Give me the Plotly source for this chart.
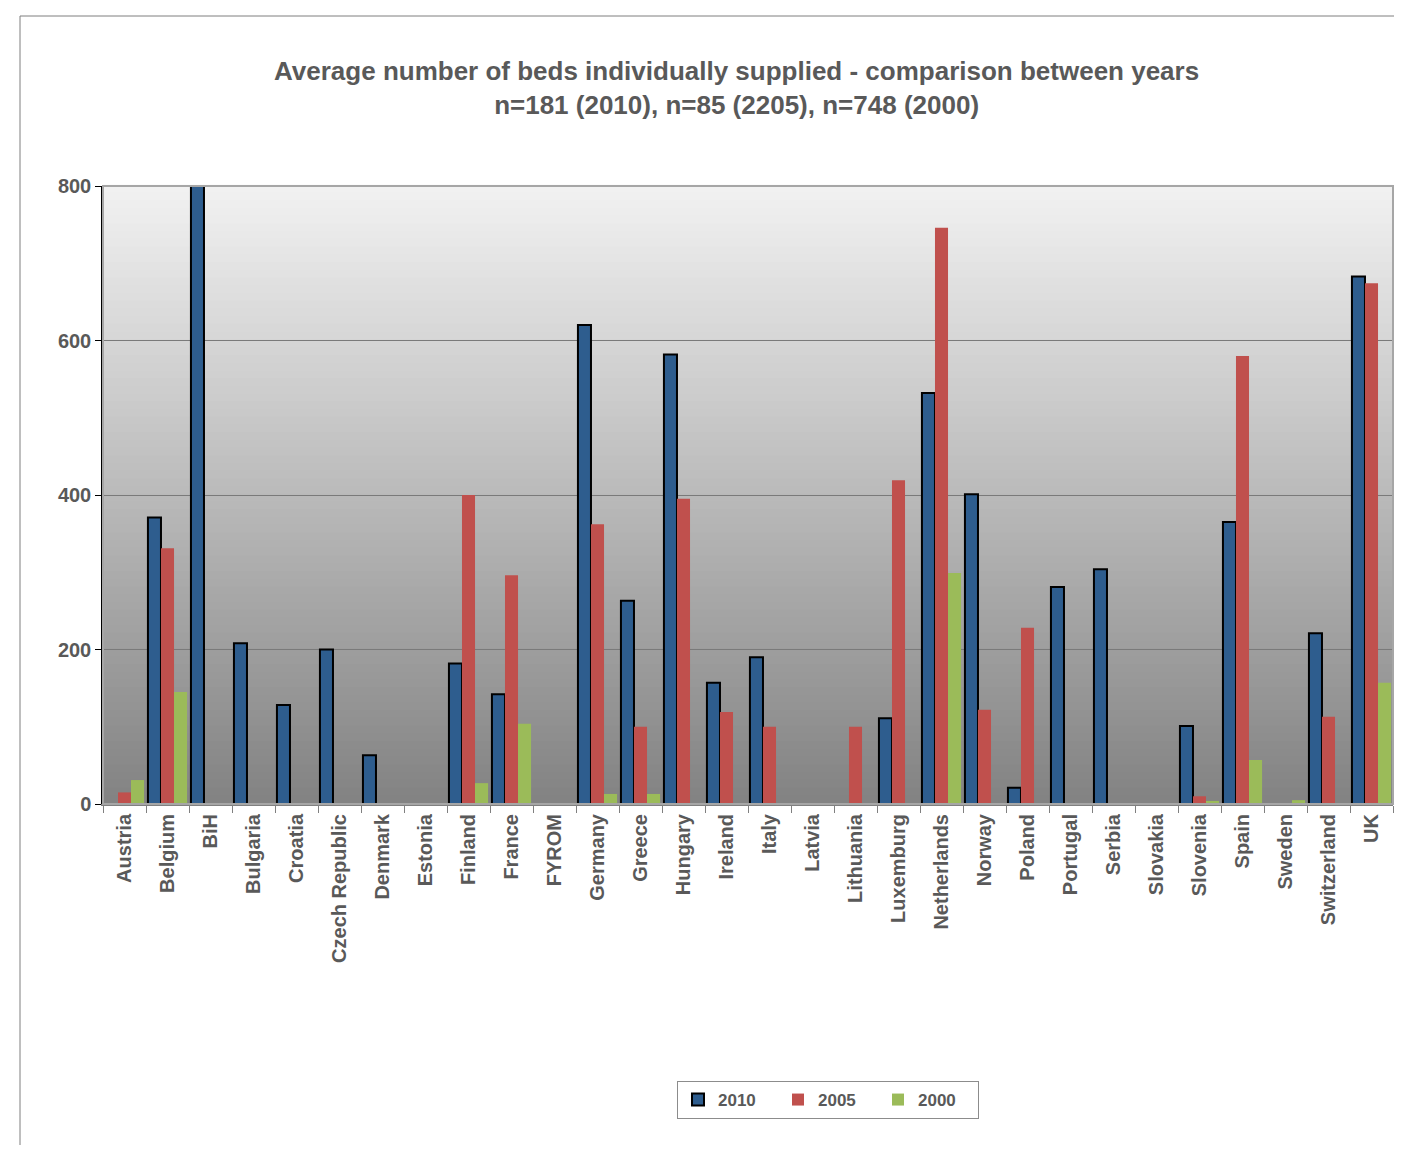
import plotly.graph_objects as go

countries = ["Austria", "Belgium", "BiH", "Bulgaria", "Croatia", "Czech Republic", "Denmark",
             "Estonia", "Finland", "France", "FYROM", "Germany", "Greece", "Hungary", "Ireland",
             "Italy", "Latvia", "Lithuania", "Luxemburg", "Netherlands", "Norway", "Poland",
             "Portugal", "Serbia", "Slovakia", "Slovenia", "Spain", "Sweden", "Switzerland", "UK"]

v2010 = [None, 371, 850, 208, 128, 200, 63, None, 182, 142, None, 620, 263, 582, 157, 190,
         None, None, 111, 532, 401, 21, 281, 304, None, 101, 365, None, 221, 683]
v2005 = [15, 331, None, None, None, None, None, None, 400, 296, None, 362, 100, 395, 119, 100,
         None, 100, 419, 746, 122, 228, None, None, None, 10, 580, None, 113, 674]
v2000 = [31, 145, None, None, None, None, None, None, 27, 104, None, 13, 13, None, None, None,
         None, None, None, 299, None, None, None, None, None, 4, 57, 5, None, 157]

y_ticks = [0, 200, 400, 600, 800]

OFF = 8  # page body margin
W, H = 1402 - 2 * OFF, 1153 - 2 * OFF
L, R, T, B = 103 - OFF, W - 1, 186 - OFF, 804 - OFF
pw, ph = R - L, B - T

def px(x):
    return (x - OFF - L) / pw

def py(y):
    return (B - (y - OFF)) / ph

FONT = "Liberation Sans, Arial"
GREY = "#595959"

fig = go.Figure()
fig.add_trace(go.Bar(name="<b>2010</b>", x=countries, y=v2010,
                     marker=dict(color="#2e5d8e", line=dict(color="#000000", width=2))))
fig.add_trace(go.Bar(name="<b>2005</b>", x=countries, y=v2005,
                     marker=dict(color="#c0504d", line=dict(width=0))))
fig.add_trace(go.Bar(name="<b>2000</b>", x=countries, y=v2000,
                     marker=dict(color="#9bbb59", line=dict(width=0))))

# gradient background of plot area
shapes = []
N = 80
c0, c1 = 0xf2, 0x82
for i in range(N):
    f0, f1 = i / N, (i + 1) / N
    t = (i + 0.5) / N
    c = round(c0 + (c1 - c0) * t)
    col = f"rgb({c},{c},{c})"
    shapes.append(dict(type="rect", xref="paper", yref="paper", x0=0, x1=1,
                       y0=1 - f1, y1=1 - f0 + 0.002, fillcolor=col, line=dict(width=0),
                       layer="below"))
# plot area border
shapes.append(dict(type="rect", xref="paper", yref="paper", x0=0, x1=1, y0=0, y1=1,
                   line=dict(color="#a6a6a6", width=2), fillcolor="rgba(0,0,0,0)", layer="above"))
# outer chart frame
shapes.append(dict(type="rect", xref="paper", yref="paper", x0=px(20), x1=px(1460),
                   y0=py(1200), y1=py(16), line=dict(color="#7f7f7f", width=1),
                   fillcolor="rgba(0,0,0,0)", layer="below"))

fig.update_layout(
    width=W, height=H,
    margin=dict(l=L, r=W - R, t=T, b=H - B, autoexpand=False),
    paper_bgcolor="white",
    plot_bgcolor="rgba(0,0,0,0)",
    barmode="group", bargap=0.09, bargroupgap=0,
    font=dict(family=FONT, color=GREY),
    shapes=shapes,
    showlegend=True,
    legend=dict(orientation="h", x=px(828), xanchor="center", y=py(1081), yanchor="top",
                bgcolor="white", bordercolor="#8c8c8c", borderwidth=1,
                font=dict(size=17, color=GREY, family=FONT),
                entrywidth=55, itemsizing="constant"),
    annotations=[dict(text="<b>Average number of beds individually supplied - comparison between years<br>n=181 (2010), n=85 (2205), n=748 (2000)</b>",
                      xref="paper", yref="paper", x=px(736), y=py(88), xanchor="center",
                      yanchor="middle", showarrow=False,
                      font=dict(size=26, color=GREY, family=FONT))],
)

fig.update_xaxes(type="category", tickangle=-90, tickson="boundaries",
                 ticks="outside", ticklen=7, tickcolor="#808080",
                 showline=True, linecolor="#808080", linewidth=2,
                 tickfont=dict(size=20, color=GREY, family=FONT),
                 showgrid=False, range=[-0.5, len(countries) - 0.5],
                 tickvals=countries, ticktext=[f"<b>{c}</b>" for c in countries])
fig.update_yaxes(range=[0, 800], tickvals=y_ticks, ticktext=[f"<b>{v}</b>" for v in y_ticks],
                 showgrid=True, gridcolor="#7a7a7a", gridwidth=1,
                 showline=True, linecolor="#000000", linewidth=1.5,
                 ticks="outside", ticklen=6, tickcolor="#000000",
                 tickfont=dict(size=20, color=GREY, family=FONT),
                 zeroline=False)

fig.write_html("out.html")
